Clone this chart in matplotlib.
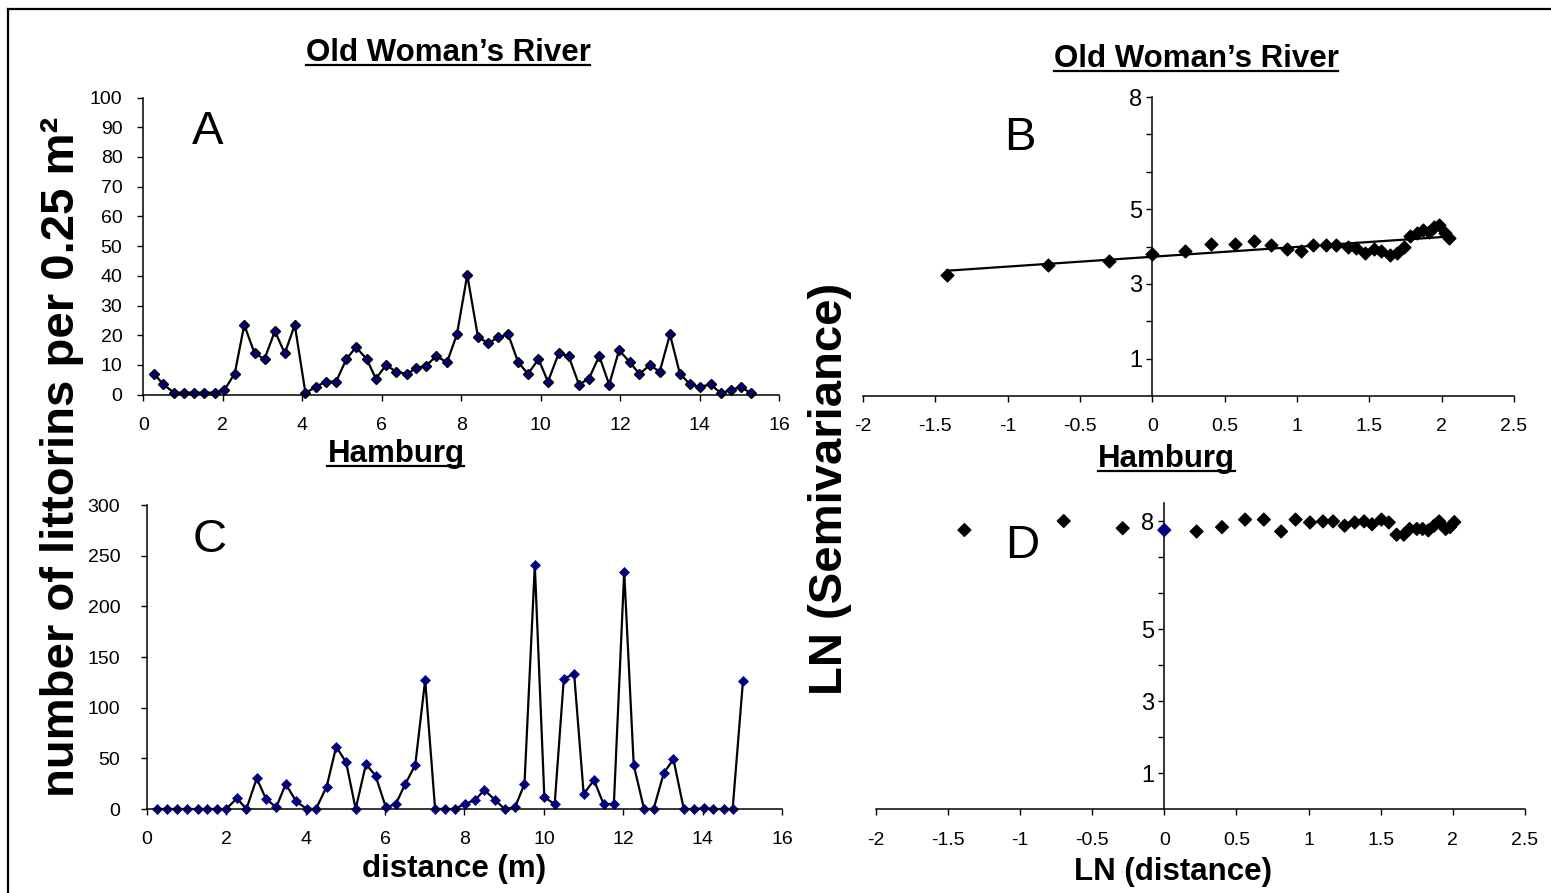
import numpy as np
import matplotlib
matplotlib.use('Agg')
import matplotlib.pyplot as plt
from matplotlib.lines import Line2D
from matplotlib.ticker import FixedLocator, FixedFormatter

plt.rcParams['font.family'] = ['Liberation Sans', 'DejaVu Sans']
plt.rcParams['axes.unicode_minus'] = False

# ---------------- data ----------------
# Panel A: Old Woman's River, littorins per quadrat vs distance
a_dist = [0.27, 0.50, 0.77, 1.02, 1.28, 1.53, 1.80, 2.04, 2.30, 2.54, 2.80, 3.05,
          3.31, 3.56, 3.81, 4.08, 4.34, 4.60, 4.85, 5.11, 5.35, 5.62, 5.85, 6.11,
          6.36, 6.63, 6.87, 7.12, 7.37, 7.64, 7.89, 8.15, 8.42, 8.68, 8.93, 9.18,
          9.43, 9.68, 9.94, 10.18, 10.45, 10.70, 10.96, 11.21, 11.47, 11.72, 11.97, 12.24,
          12.48, 12.75, 12.99, 13.25, 13.50, 13.75, 14.00, 14.27, 14.53, 14.78, 15.03, 15.29]
a_count = [7.1, 3.5, 0.7, 0.7, 0.7, 0.7, 0.7, 1.6, 7.1, 23.5, 13.9, 12.0,
           21.4, 13.9, 23.5, 0.5, 2.7, 4.4, 4.4, 12.0, 16.0, 12.0, 5.4, 10.0,
           7.7, 7.0, 8.9, 9.8, 13.0, 10.9, 20.3, 40.3, 19.4, 17.3, 19.3, 20.3,
           10.9, 7.0, 12.0, 4.4, 13.9, 13.0, 3.4, 5.4, 13.0, 3.4, 15.0, 10.9,
           7.0, 10.0, 7.7, 20.3, 7.0, 3.6, 2.6, 3.5, 0.5, 1.6, 2.6, 0.5]

# Panel C: Hamburg, littorins per quadrat vs distance
c_dist = [0.27, 0.52, 0.77, 1.02, 1.28, 1.51, 1.76, 2.00, 2.27, 2.51, 2.77, 3.00,
          3.26, 3.50, 3.76, 4.03, 4.26, 4.53, 4.77, 5.02, 5.26, 5.52, 5.76, 6.02,
          6.27, 6.51, 6.76, 7.01, 7.26, 7.51, 7.75, 8.01, 8.27, 8.50, 8.77, 9.01,
          9.27, 9.51, 9.77, 10.01, 10.27, 10.50, 10.76, 11.00, 11.26, 11.50, 11.76, 12.02,
          12.26, 12.52, 12.76, 13.02, 13.26, 13.52, 13.77, 14.02, 14.26, 14.52, 14.75, 15.01]
c_count = [0, 0, 0, 0, 0, 0, 0, 0, 10.5, 0, 30.3, 10.2,
           1.6, 24.7, 7.6, 0, 0, 22.0, 61.5, 46.1, 0, 44.4, 32.9, 1.6,
           4.9, 24.7, 43.4, 127.3, 0, 0, 0, 4.9, 8.9, 18.8, 8.9, 0,
           1.6, 24.7, 240.5, 11.5, 4.9, 128.6, 133.2, 14.8, 28.6, 4.9, 4.9, 234.2,
           43.4, 0, 0, 35.8, 49.0, 0, 0, 0.7, 0, 0, 0, 126.3]

# Panel B: Old Woman's River semivariogram (log-log)
b_lndist = [-1.42, -0.72, -0.30, 0.0, 0.226, 0.406, 0.57, 0.70, 0.82, 0.93,
            1.03, 1.11, 1.20, 1.27, 1.35, 1.41, 1.47, 1.53, 1.58, 1.64,
            1.69, 1.74, 1.78, 1.83, 1.87, 1.91, 1.945, 1.98, 2.02, 2.05]
b_lnsemi = [3.24, 3.50, 3.61, 3.80, 3.88, 4.07, 4.07, 4.15, 4.04, 3.92,
            3.88, 4.04, 4.04, 4.04, 4.00, 3.95, 3.83, 3.93, 3.89, 3.76,
            3.83, 3.99, 4.28, 4.37, 4.45, 4.39, 4.51, 4.58, 4.35, 4.23]

# Panel D: Hamburg semivariogram (log-log)
d_lndist = [-1.385, -0.697, -0.288, 0.0, 0.224, 0.40, 0.56, 0.69, 0.81, 0.91,
            1.01, 1.10, 1.17, 1.25, 1.32, 1.385, 1.44, 1.505, 1.556, 1.61,
            1.66, 1.70, 1.75, 1.79, 1.83, 1.87, 1.905, 1.95, 1.98, 2.01]
d_lnsemi = [7.75, 8.00, 7.80, 7.75, 7.71, 7.83, 8.04, 8.04, 7.71, 8.04,
            7.96, 7.99, 7.99, 7.87, 7.96, 7.99, 7.91, 8.04, 7.96, 7.62,
            7.62, 7.78, 7.78, 7.78, 7.74, 7.87, 7.99, 7.78, 7.83, 7.97]

count_ticks_a = list(range(0, 101, 10))
count_ticks_c = list(range(0, 301, 50))
dist_ticks = list(range(0, 17, 2))
ln_xticks = [-2, -1.5, -1, -0.5, 0, 0.5, 1, 1.5, 2, 2.5]
ln_yticks = [1, 2, 3, 4, 5, 6, 7, 8]
ln_ylabels = ['1', '', '3', '', '5', '', '', '8']

NAVY = '#000080'
W, H = 1551, 893
fig = plt.figure(figsize=(W / 100, H / 100), dpi=100)


def add_ax(x0, y_top, x1, y_bot):
    return fig.add_axes([x0 / W, 1 - y_bot / H, (x1 - x0) / W, (y_bot - y_top) / H])


def style(ax, xpad=12, ypad=10, ysize=14):
    for s in ['top', 'right']:
        ax.spines[s].set_visible(False)
    for s in ['left', 'bottom']:
        ax.spines[s].set_linewidth(1.1)
    ax.tick_params(axis='both', direction='out', length=4, width=1.0,
                   labelsize=14, color='black')
    ax.tick_params(axis='x', pad=xpad)
    ax.tick_params(axis='y', pad=ypad, labelsize=ysize)
    ax.patch.set_alpha(0)


# ---- Panel A ----
axA = add_ax(143.3, 97.5, 779.3, 394.7)
axA.plot(a_dist, a_count, color='black', lw=1.6, marker='D', ms=5.2,
         mfc=NAVY, mec='black', mew=1.0, clip_on=False)
axA.set_xlim(0, 16)
axA.set_ylim(0, 100)
axA.set_xticks(dist_ticks)
axA.set_yticks(count_ticks_a)
style(axA, xpad=12, ypad=11)

# ---- Panel C ----
axC = add_ax(146.7, 505, 782.3, 809)
axC.plot(c_dist, c_count, color='black', lw=1.6, marker='D', ms=5.2,
         mfc=NAVY, mec=NAVY, mew=0.5, clip_on=False)
axC.set_xlim(0, 16)
axC.set_ylim(0, 300)
axC.set_xticks(dist_ticks)
axC.set_yticks(count_ticks_c)
style(axC, xpad=12, ypad=15)

# ---- Panel B ----
axB = add_ax(863, 97, 1514, 396)
axB.scatter(b_lndist, b_lnsemi, marker='D', s=42, color='black', zorder=3, clip_on=False)
slope, intercept = np.polyfit(b_lndist, b_lnsemi, 1)
xfit = np.array([min(b_lndist), max(b_lndist)])
axB.plot(xfit, slope * xfit + intercept, color='black', lw=1.6)
axB.set_xlim(-2, 2.5)
axB.set_ylim(0, 8)
axB.spines['left'].set_position(('data', 0))
axB.xaxis.set_major_locator(FixedLocator(ln_xticks))
axB.xaxis.set_major_formatter(FixedFormatter(['%g' % v for v in ln_xticks]))
axB.yaxis.set_major_locator(FixedLocator(ln_yticks))
axB.yaxis.set_major_formatter(FixedFormatter(ln_ylabels))
style(axB, xpad=12, ypad=3, ysize=17)

# ---- Panel D ----
axD = add_ax(875.7, 503, 1525, 809.3)
d_colors = [NAVY if v == 0 else 'black' for v in d_lndist]
axD.scatter(d_lndist, d_lnsemi, marker='D', s=42, c=d_colors, zorder=3, clip_on=False)
axD.set_xlim(-2, 2.5)
axD.set_ylim(0, 8.5)
axD.spines['left'].set_position(('data', 0))
axD.xaxis.set_major_locator(FixedLocator(ln_xticks))
axD.xaxis.set_major_formatter(FixedFormatter(['%g' % v for v in ln_xticks]))
axD.yaxis.set_major_locator(FixedLocator(ln_yticks))
axD.yaxis.set_major_formatter(FixedFormatter(ln_ylabels))
style(axD, xpad=12, ypad=3, ysize=17)


# ---- text ----
def fx(px):
    return px / W


def fy(py):
    return 1 - py / H


letters = [('A', 208, 132), ('B', 1020, 138), ('C', 210, 540), ('D', 1022, 546)]
for t, x, y in letters:
    fig.text(fx(x), fy(y), t, fontsize=34, ha='center', va='center')

titles = [("Old Woman\u2019s River", 448, 61), ("Old Woman\u2019s River", 1196, 67),
          ("Hamburg", 396, 462), ("Hamburg", 1166, 467)]
title_objs = []
for t, x, y in titles:
    title_objs.append((fig.text(fx(x), fy(y), t, fontsize=22.5, fontweight='bold',
                                ha='center', va='baseline'), y))

fig.text(fx(454), fy(869), 'distance (m)', fontsize=22.5, fontweight='bold',
         ha='center', va='center')
fig.text(fx(1173), fy(872), 'LN (distance)', fontsize=22.5, fontweight='bold',
         ha='center', va='center')
fig.text(fx(62), fy(457), 'number of littorins per 0.25 m\u00b2', fontsize=34,
         fontweight='bold', rotation=90, ha='center', va='center')
fig.text(fx(830), fy(489), 'LN (Semivariance)', fontsize=34,
         fontweight='bold', rotation=90, ha='center', va='center')

# underline titles
fig.canvas.draw()
r = fig.canvas.get_renderer()
for tobj, ybase in title_objs:
    bb = tobj.get_window_extent(r)
    yl = fy(ybase + 4)
    fig.add_artist(Line2D([bb.x0 / W, bb.x1 / W], [yl, yl], color='black', lw=1.6,
                          transform=fig.transFigure))

# frame lines (left and top)
fig.add_artist(Line2D([fx(8), fx(8)], [fy(9), 0], color='black', lw=1.6,
                      transform=fig.transFigure))
fig.add_artist(Line2D([fx(8), 1], [fy(9), fy(9)], color='black', lw=1.6,
                      transform=fig.transFigure))

fig.savefig('out.png', dpi=100, facecolor='white')
